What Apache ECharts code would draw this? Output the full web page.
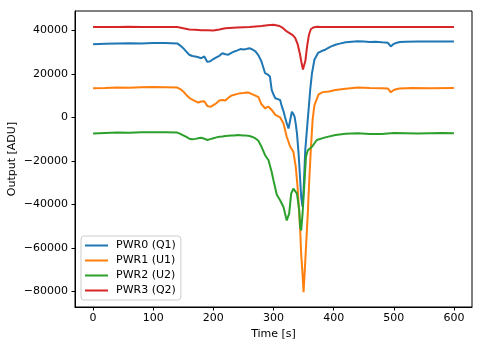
<!DOCTYPE html>
<html>
<head>
<meta charset="utf-8">
<script src="https://cdn.jsdelivr.net/npm/echarts@6/dist/echarts.min.js"></script>
<style>
html,body{margin:0;padding:0;background:#fff;}
#c{width:483px;height:347px;}
</style>
</head>
<body>
<div id="c"></div>
<script>
// ---- data ----
const seriesNames = ['PWR0 (Q1)', 'PWR1 (U1)', 'PWR2 (U2)', 'PWR3 (Q2)'];
const xTicks = [0, 100, 200, 300, 400, 500, 600];
const yTicks = [-80000, -60000, -40000, -20000, 0, 20000, 40000];
const xTitle = 'Time [s]';
const yTitle = 'Output [ADU]';

const t0 = [0,20,40,60,80,100,120,140,145,150,155,160,165,170,175,180,185,190,195,200,205,210,215,220,225,230,235,240,245,250,255,260,265,270,275,280,286,290,294,297,300,303,307,311,314,317,319,322,325,328,330.5,333,335,337,339,341.7,344.4,346,348.3,350,352.8,355.5,358.3,361,364,368,374,380,386,395,403,410,420,430,440,450,460,470,480,490,495,500,505,510,520,540,560,580,600];
const v0 = [33600,33800,34000,34100,34000,34200,34200,34000,33000,31800,30200,28800,28200,28000,27600,27200,28000,25500,25800,26800,27600,28300,29500,29000,28800,29600,30300,30800,31400,31200,31400,31800,31200,30300,28500,25700,20300,19800,18800,12600,10500,8800,8400,8000,4900,2500,300,-2800,-5100,-1000,2600,1500,300,-3000,-7400,-16600,-28900,-36600,-41200,-33500,-15100,-5800,3400,12600,20300,26500,29600,30500,31100,32500,33400,33900,34500,34800,35000,34900,34700,34800,34500,34300,32600,33800,34300,34600,34800,34900,34900,34900,34900];

const t1 = [0,20,40,60,80,100,120,140,145,150,155,160,165,170,175,180,185,190,195,200,205,210,215,220,225,230,235,240,245,250,255,260,265,270,275,280,286,291.7,297,303,311,316.6,322,327.8,333,337,340,342.8,344.4,346,348.3,350,351.7,354,357,359.4,362,365,368,375,382,392,403,420,440,460,480,490,495,500,505,510,530,560,600];
const v1 = [13400,13500,13700,13600,13800,13900,13800,13700,13000,11900,10300,9000,8200,7500,6800,7300,7400,5200,4800,5600,6500,7800,8000,7800,9000,10000,10400,10800,11100,11200,11400,11300,10600,10000,9300,6000,4200,4900,3400,1100,0,-2800,-8900,-13500,-15800,-22800,-32000,-44300,-52000,-62800,-72000,-80400,-72000,-59700,-44300,-28900,-15100,-1200,5500,10600,11600,11900,12600,13200,13700,13500,13400,13300,11500,12600,13000,13300,13500,13400,13500];

const t2 = [0,20,40,60,80,100,120,140,145,150,155,160,165,170,175,180,185,190,195,200,205,210,215,220,225,230,235,240,245,250,255,260,265,270,275,280,286,291.7,297,300,305.5,311,316.6,322,326,329.4,333,339,342.8,344.4,346,348.3,351.7,354,357,364,372,386,403,420,440,460,480,500,520,540,560,580,600];
const v2 = [-7400,-7200,-7000,-7100,-6900,-6800,-6900,-7000,-7600,-8300,-9000,-9800,-10100,-9900,-9600,-9400,-9800,-10400,-10000,-9600,-9200,-8900,-8800,-8600,-8500,-8400,-8300,-8100,-8200,-8300,-8400,-8600,-9000,-9700,-10800,-13500,-17400,-19700,-25100,-29000,-35600,-38100,-41200,-47400,-44300,-35100,-32800,-35100,-42800,-50500,-52000,-44300,-28900,-18100,-15100,-13500,-10400,-9200,-8100,-7500,-7300,-7700,-7600,-7200,-7300,-7400,-7300,-7200,-7300];

const t3 = [0,20,40,60,80,100,120,140,150,160,170,180,190,200,210,220,240,260,280,290,300,310,316,322,328,332,336,340,344,347,349,351,353,356,359,362,366,372,380,400,450,500,550,600];
const v3 = [41500,41600,41500,41700,41600,41500,41600,41500,41000,40400,40300,40100,40000,39900,40400,41000,41300,41500,42000,42400,42600,42000,41000,39500,38500,37800,36500,33800,29000,24500,22000,22500,26000,33000,38000,40500,41300,41700,41600,41600,41500,41600,41500,41600];

const colors = ['#1f77b4', '#ff7f0e', '#2ca02c', '#d62728'];
const tArr = [t0, t1, t2, t3];
const vArr = [v0, v1, v2, v3];

const FONT = 'DejaVu Sans';
const FS = 11;
const chart = echarts.init(document.getElementById('c'), null, {renderer: 'canvas'});

const series = seriesNames.map((name, i) => ({
  name: name,
  type: 'line',
  data: tArr[i].map((t, j) => [t, vArr[i][j]]),
  showSymbol: false,
  symbol: 'none',
  lineStyle: {color: colors[i], width: 2},
  itemStyle: {color: colors[i]},
  animation: false
}));

chart.setOption({
  animation: false,
  backgroundColor: '#fff',
  textStyle: {fontFamily: FONT},
  grid: {left: 75, right: 11, top: 11, bottom: 40, show: true, borderColor: '#000', borderWidth: 1, containLabel: false, outerBoundsMode: 'none'},
  xAxis: {
    type: 'value', min: -30, max: 630,
    name: xTitle, nameLocation: 'middle', nameGap: 22, nameMoveOverlap: false,
    nameTextStyle: {fontFamily: FONT, fontSize: FS, color: '#000'},
    axisLine: {show: true, onZero: false, lineStyle: {color: '#000', width: 1}},
    axisTick: {show: true, inside: false, length: 3.5, lineStyle: {color: '#000'}, customValues: xTicks},
    axisLabel: {fontFamily: FONT, fontSize: FS, color: '#000', margin: 6, customValues: xTicks},
    splitLine: {show: false}
  },
  yAxis: {
    type: 'value', min: -87200, max: 48900,
    axisLine: {show: true, onZero: false, lineStyle: {color: '#000', width: 1}},
    axisTick: {show: true, inside: false, length: 3.5, lineStyle: {color: '#000'}, customValues: yTicks},
    axisLabel: {fontFamily: FONT, fontSize: FS, color: '#000', margin: 7, customValues: yTicks,
      formatter: v => String(v).replace('-', '\u2212')},
    splitLine: {show: false}
  },
  graphic: [{
    type: 'text', x: 12, y: 159, rotation: Math.PI / 2,
    style: {text: yTitle, fill: '#000', font: FS + 'px "' + FONT + '"', align: 'center', verticalAlign: 'middle'}
  }],
  legend: {
    orient: 'vertical', left: 81, top: 236,
    data: seriesNames.map(n => ({name: n, icon: 'rect'})),
    itemWidth: 23, itemHeight: 2, itemGap: 4,
    padding: [4, 5, 4, 4],
    backgroundColor: 'rgba(255,255,255,0.8)', borderColor: '#cccccc', borderWidth: 1, borderRadius: 3,
    textStyle: {fontFamily: FONT, fontSize: FS, color: '#000', padding: [0, 0, 0, 3]}
  },
  series: series
});
</script>
</body>
</html>
